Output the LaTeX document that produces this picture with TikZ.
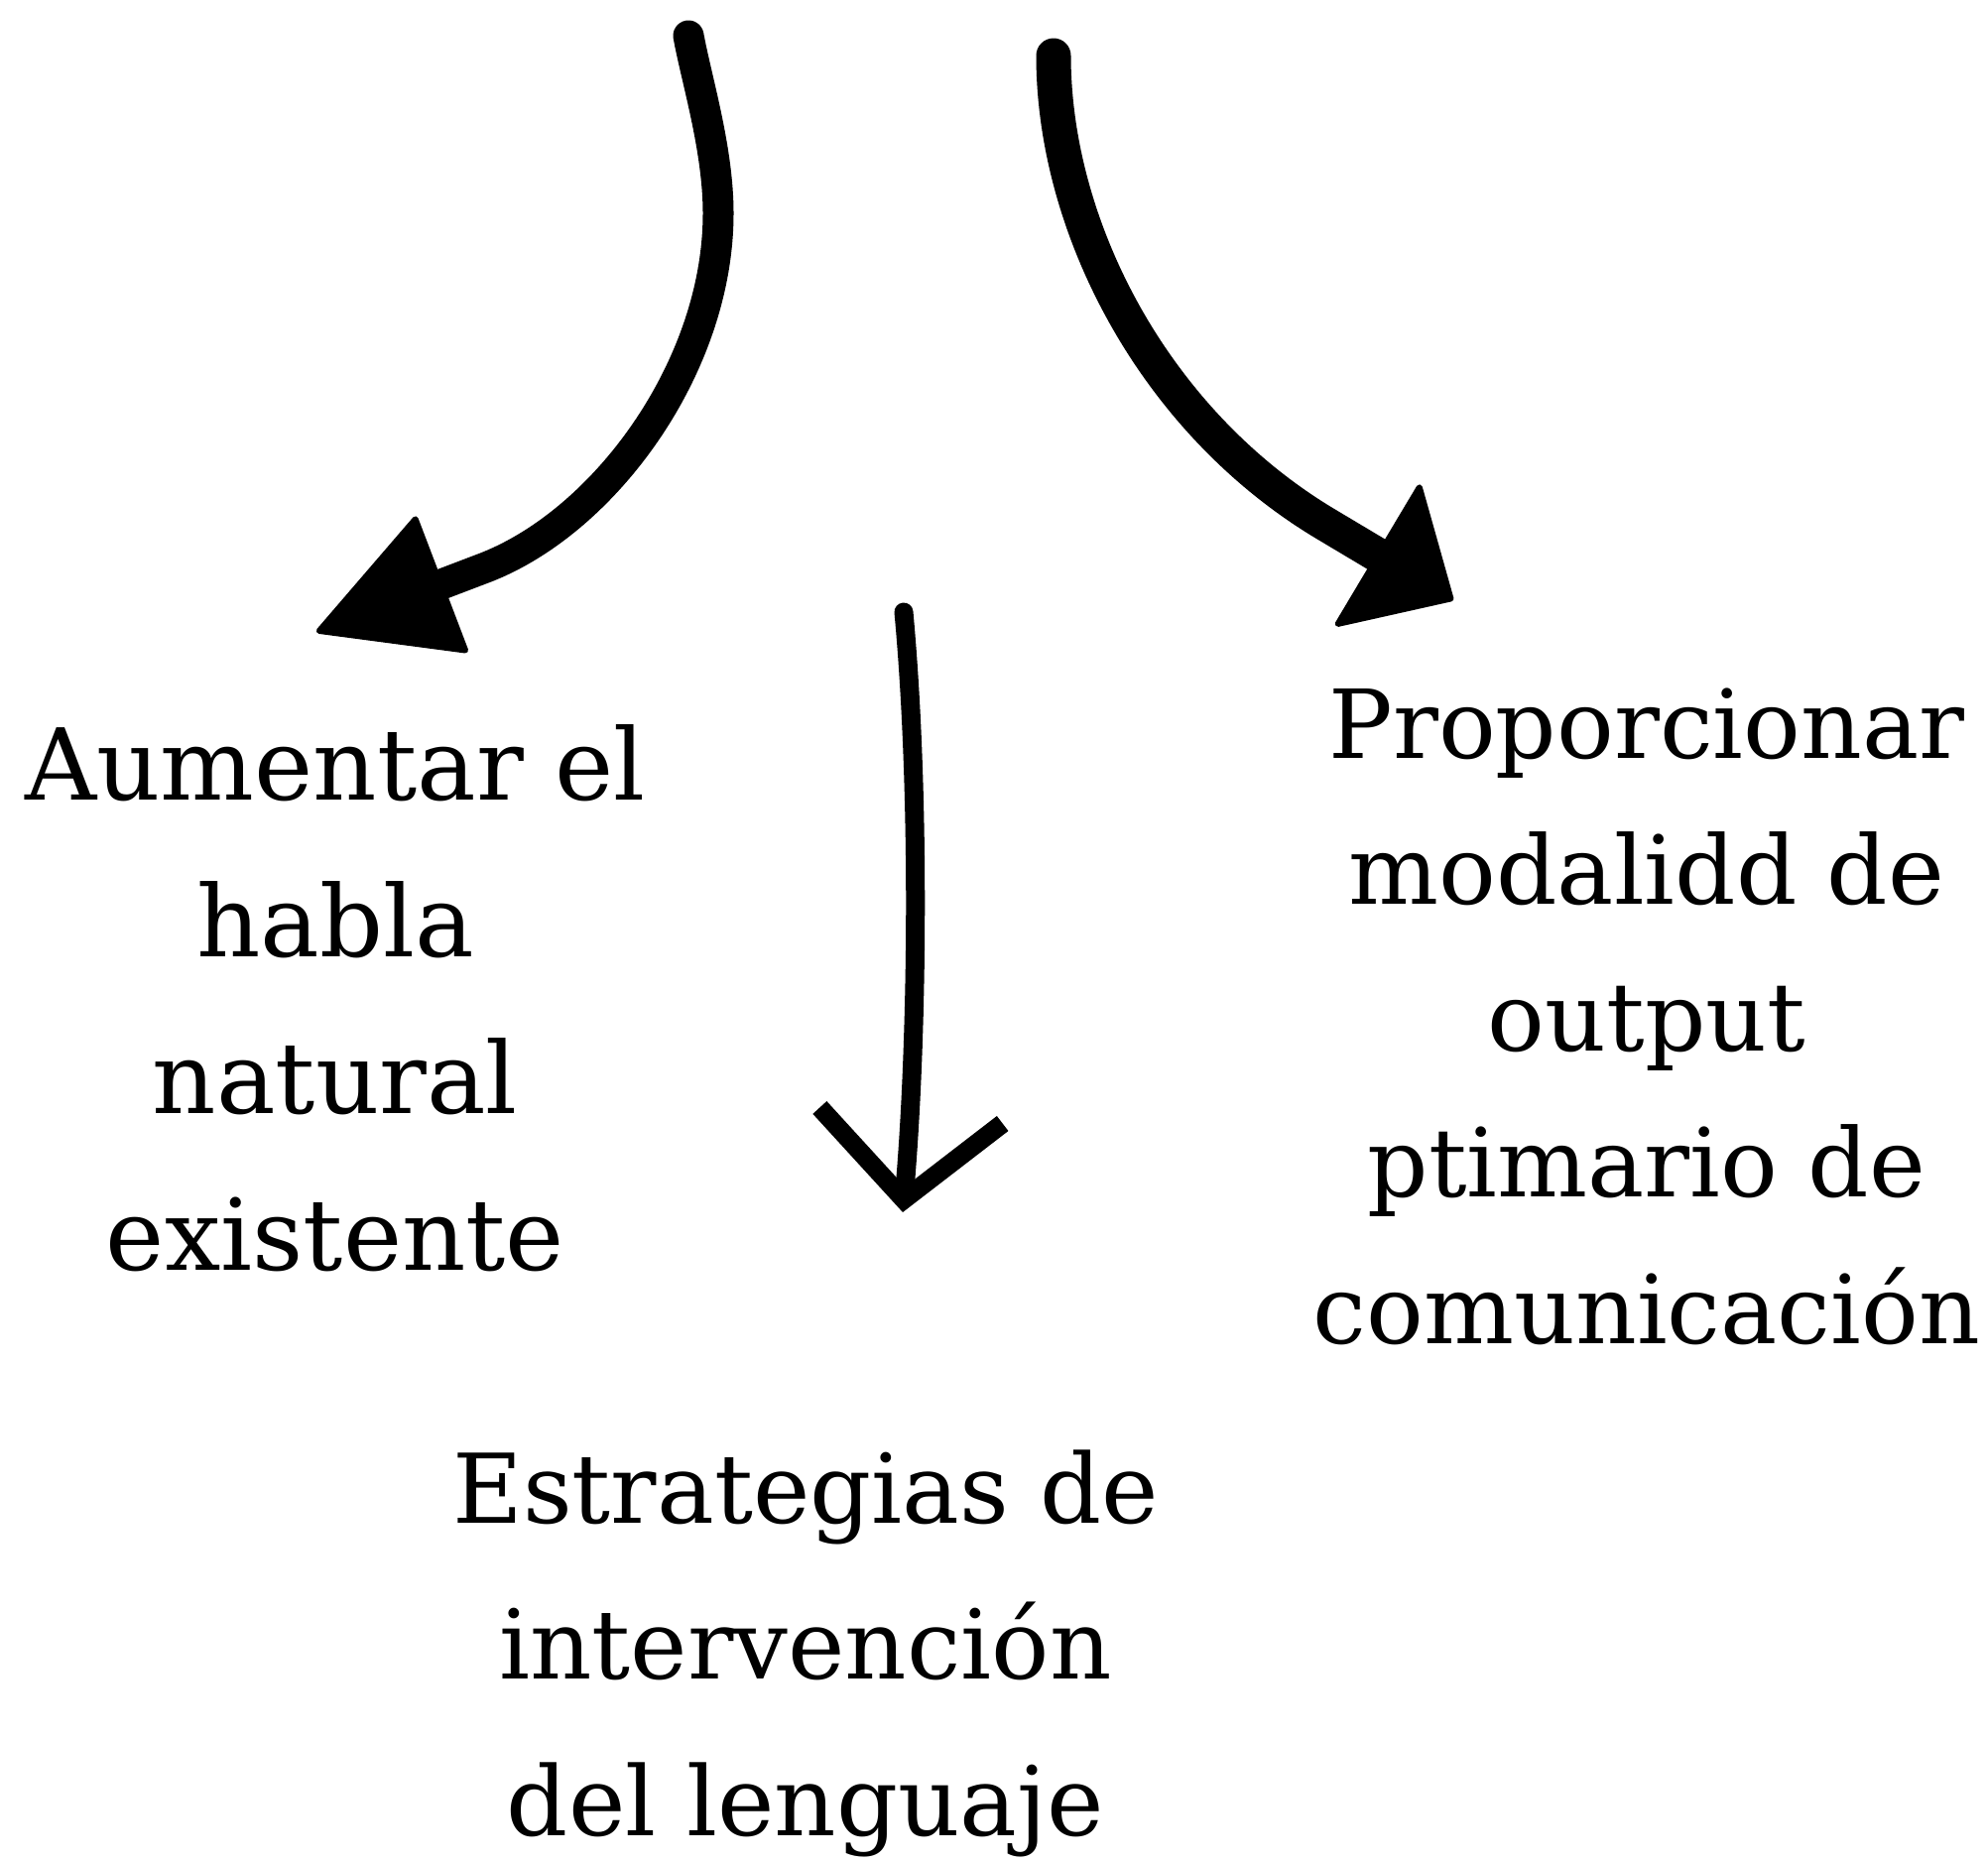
\documentclass[tikz,border=0pt]{standalone}
\usepackage{fontspec}
\setmainfont{DejaVu Serif}
\usepackage{tikz}
\usetikzlibrary{arrows.meta}

\begin{document}
\begin{tikzpicture}[x=1pt,y=-1pt]
    \tikzstyle{texto} = [align=center,inner sep=0pt,anchor=base]
\tikzstyle{gruesa} = [line cap=round,line join=round]
\tikzstyle{fina} = [line width=19pt,line cap=round,line join=round]

\useasboundingbox (0,0) rectangle (2004,1877);

\node[texto,font=\fontsize{100}{158}\selectfont] (aumentar) at (338,1280) {Aumentar el\\habla\\natural\\existente};
\node[texto,font=\fontsize{96}{147.5}\selectfont] (proporcionar) at (1660,1354) {Proporcionar\\modalidd de\\output\\ptimario de\\comunicación};
\node[texto,font=\fontsize{97}{157.5}\selectfont] (estrategias) at (812,1850) {Estrategias de\\intervención\\del lenguaje};

\coordinate (izqIni) at (694,36);
\coordinate (izqFin) at (319,637);
\coordinate (derIni) at (1062,56);
\coordinate (derFin) at (1465,605);
\coordinate (medIni) at (911,617);
\coordinate (medFin) at (910,1222);

\draw[gruesa,line width=31pt,-{Triangle[length=140pt,width=150pt,line width=6pt,round]}] (izqIni) .. controls (702,80) and (724,150) .. (724,215) .. controls (724,370) and (609,527) .. (487,573) -- (izqFin);
\draw[gruesa,line width=35pt,-{Triangle[length=92pt,width=173pt,line width=6pt,round]}] (derIni) .. controls (1062,230) and (1164,425) .. (1336,528) -- (derFin);
\draw[fina,-{Straight Barb[length=85pt,width=185pt]}] (medIni) .. controls (928,800) and (925,1050) .. (medFin);
\end{tikzpicture}
\end{document}
